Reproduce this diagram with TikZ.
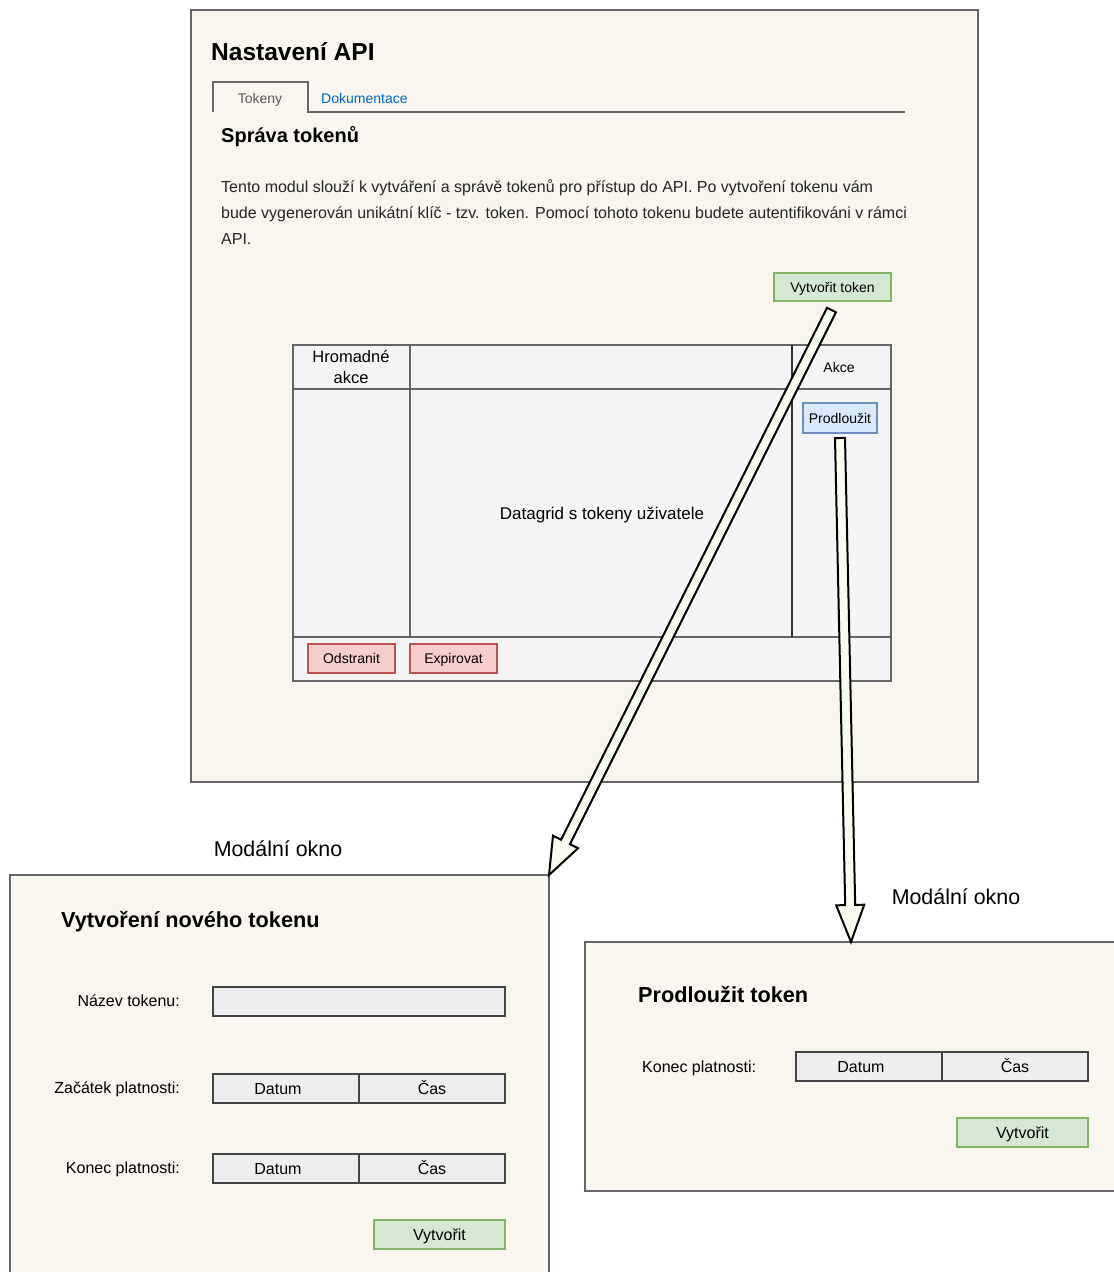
\documentclass[tikz,border=0pt]{standalone}
\usepackage{fontspec}
\setmainfont{Liberation Sans}
\usetikzlibrary{calc}

\definecolor{pagebg}{RGB}{248,246,238}
\definecolor{bordergray}{RGB}{102,102,102}
\definecolor{gridbg}{RGB}{245,245,245}
\definecolor{fieldbg}{RGB}{238,238,238}
\definecolor{fieldline}{RGB}{68,68,68}
\definecolor{greenbg}{RGB}{213,232,212}
\definecolor{greenline}{RGB}{130,179,102}
\definecolor{bluebg}{RGB}{218,232,252}
\definecolor{blueline}{RGB}{108,142,191}
\definecolor{redbg}{RGB}{248,206,204}
\definecolor{redline}{RGB}{184,84,80}
\definecolor{linkblue}{RGB}{0,102,204}
\definecolor{arrowbg}{RGB}{248,252,240}

\tikzset{
  panel/.style={draw=bordergray, fill=pagebg, line width=1.2pt, inner sep=0pt, outer sep=0pt, anchor=north west},
  % caps centred on the node's y
  txt/.style={inner sep=0pt, text height={0.716*#1pt}, text depth=0pt, font=\fontsize{#1}{#1}\selectfont},
  headtxt/.style={inner sep=0pt, font=\fontsize{#1}{#1}\selectfont\bfseries},
  btnbase/.style={line width=1.2pt, inner sep=0pt, outer sep=0pt},
  btngreen/.style={btnbase, draw=greenline, fill=greenbg},
  btnblue/.style={btnbase, draw=blueline, fill=bluebg},
  btnred/.style={btnbase, draw=redline, fill=redbg},
  btntext/.style={txt=#1},
  field/.style={draw=fieldline, fill=fieldbg, line width=1.3pt, inner sep=0pt, outer sep=0pt, anchor=north west,
    minimum height=29pt, txt=16},
  flexarrow/.style={draw=black, fill=arrowbg, line width=2pt, line join=miter}
}

% thick hollow arrow from #1 to #2
\newcommand{\flexarrow}[2]{%
  \path ($(#2)!37pt!(#1)$) coordinate (fa-h);
  \draw[flexarrow] ($(#1)!5pt!90:(#2)$) -- ($(fa-h)!5pt!90:(#2)$) -- ($(fa-h)!14pt!90:(#2)$)
    -- (#2) -- ($(fa-h)!14pt!-90:(#2)$) -- ($(fa-h)!5pt!-90:(#2)$) -- ($(#1)!5pt!-90:(#2)$) -- cycle;}
% date text sits a bit left of the field centre
\newcommand{\datumtext}{Datum\hspace*{16pt}}

\begin{document}
\begin{tikzpicture}[x=1pt,y=-1pt]
\useasboundingbox (0,0) rectangle (1114,1272);

%Shape: Rectangle - main page
\node[panel, minimum width=787pt, minimum height=772pt] (hlavni) at (191,10) {};
% Text Node
\node[headtxt=24.5, anchor=west] (nadpis) at (211,52) {Nastavení API};

%Shape: Tab
\draw[bordergray, line width=1.2pt] (213,112) -- (213,82) -- (308,82) -- (308,112) -- (905,112);
% Text Node
\node[txt=14, text=black!65] (tabtokeny) at (260,98) {Tokeny};
% Text Node
\node[txt=14, text=linkblue, anchor=west] (tabdoku) at (321,98) {Dokumentace};

% Text Node
\node[headtxt=20, anchor=west] (sprava) at (221,137) {Správa tokenů};
% Text Node
\node[inner sep=0pt, anchor=west, align=left, font=\fontsize{16}{26}\selectfont, text=black!85] (popis) at (221,212)
  {Tento modul slouží k vytváření a správě tokenů pro přístup do API. Po vytvoření tokenu vám\\
   bude vygenerován unikátní klíč - tzv. token. Pomocí tohoto tokenu budete autentifikováni v rámci\\
   API.};

% Button
\node[btngreen, btntext=14, minimum width=117pt, minimum height=28pt] (btntoken) at (832.5,287) {Vytvořit token};

%Shape: Rectangle - datagrid
\node[draw=bordergray, fill=gridbg, line width=1.2pt, inner sep=0pt, outer sep=0pt, anchor=north west,
  minimum width=598pt, minimum height=336pt] (datagrid) at (293,345) {};
%Straight Lines
\draw[bordergray, line width=1.2pt] (293,389) -- (891,389);
\draw[bordergray, line width=1.2pt] (293,637) -- (891,637);
\draw[bordergray, line width=1.2pt] (410,345) -- (410,637);
\draw[black!80, line width=1.2pt] (792,345) -- (792,637);

% Text Node
\node[inner sep=0pt, align=center, font=\fontsize{16.5}{21}\selectfont] (hromadne) at (351,367) {Hromadné\\akce};
% Text Node
\node[txt=14] (akce) at (839,367) {Akce};
% Text Node
\node[txt=17] (gridtext) at (602,513) {Datagrid s tokeny uživatele};

% Buttons
\node[btnblue, btntext=14, minimum width=74pt, minimum height=30pt] (btnprodl) at (840,418) {Prodloužit};
\node[btnred, btntext=14, minimum width=87pt, minimum height=29pt] (btnodstr) at (351.5,658.5) {Odstranit};
\node[btnred, btntext=14, minimum width=87pt, minimum height=29pt] (btnexp) at (453.5,658.5) {Expirovat};

% Text Node
\node[txt=21.4] (okno1) at (278,849) {Modální okno};
% Text Node
\node[txt=21.4] (okno2) at (956,897) {Modální okno};

%Shape: Rectangle - new token modal
\node[panel, minimum width=539pt, minimum height=420pt] (modalnovy) at (10,875) {};
% Text Node
\node[headtxt=21.7, anchor=west] (novytitle) at (61,922) {Vytvoření nového tokenu};
% Text Node
\node[txt=16, anchor=east] (lblnazev) at (180,1001) {Název tokenu:};
\node[field, minimum width=292pt] (fnazev) at (213,987) {};
% Text Node
\node[txt=16, anchor=east] (lblzacatek) at (180,1088) {Začátek platnosti:};
\node[field, minimum width=146pt] (zdatum) at (213,1074) {\datumtext};
\node[field, minimum width=146pt] (zcas) at (zdatum.north east) {Čas};
% Text Node
\node[txt=16, anchor=east] (lblkonec) at (180,1168) {Konec platnosti:};
\node[field, minimum width=146pt] (kdatum) at (213,1154) {\datumtext};
\node[field, minimum width=146pt] (kcas) at (kdatum.north east) {Čas};
% Button
\node[btngreen, btntext=16, anchor=north west, minimum width=131pt, minimum height=29pt] (btnnovy) at (374,1220) {Vytvořit};

%Shape: Rectangle - extend token modal
\node[panel, minimum width=545pt, minimum height=249pt] (modalprod) at (585,942) {};
% Text Node
\node[headtxt=21.7, anchor=west] (prodtitle) at (638,994) {Prodloužit token};
% Text Node
\node[txt=16, anchor=west] (lblpkonec) at (642,1067) {Konec platnosti:};
\node[field, minimum width=146pt] (pdatum) at (796,1052) {\datumtext};
\node[field, minimum width=146pt] (pcas) at (pdatum.north east) {Čas};
% Button
\node[btngreen, btntext=16, anchor=north west, minimum width=131pt, minimum height=29pt] (btnprod) at (957,1118) {Vytvořit};

% Arrows
\coordinate (a1start) at ($(btntoken.south)+(-1,9)$);
\coordinate (a2start) at ($(btnprodl.south)+(0,5)$);
\coordinate (a2end) at ($(modalprod.north west)+(266,0)$);
\flexarrow{a1start}{modalnovy.north east}
\flexarrow{a2start}{a2end}

\end{tikzpicture}
\end{document}
